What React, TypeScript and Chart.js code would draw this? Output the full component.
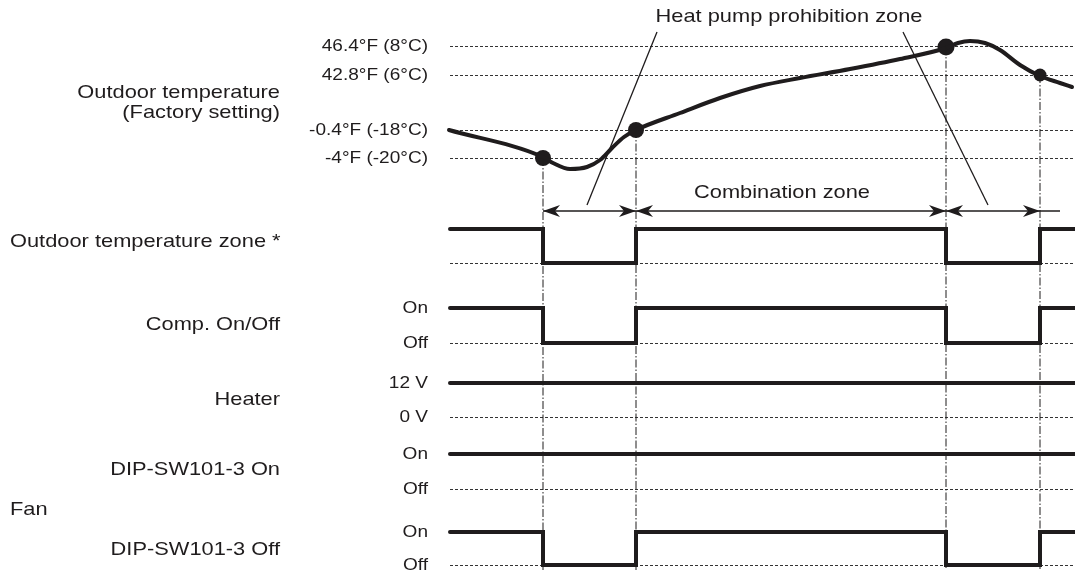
import React, { useEffect, useRef } from "react";
import { Chart, registerables } from "chart.js";

Chart.register(...registerables);

// ---- Time axis (arbitrary time units) ----
const EVENT_TIMES = [9.3, 18.6, 49.6, 59.0];
const TIME_END = 62.5;

// ---- Outdoor temperature curve (diagram level units, top = 0) ----
const TEMP_TIMES = [-0.1, 9.3, 10.3, 12.0, 13.7, 15.0, 16.2, 17.4, 18.6, 23.0, 27.0, 31.0, 35.0, 40.0, 45.0, 49.6, 50.8, 52.0, 53.5, 55.0, 57.0, 59.0, 61.0, 62.2];
const TEMP_LEVELS = [130, 157, 163, 169, 167, 160, 148, 137, 130, 113, 98, 86, 78, 69, 59, 48, 43, 41, 43, 50, 65, 76, 83, 87];
const EVENT_MARKER_LEVELS = [158, 130, 47, 75];
const MARKER_RADII = [8, 8, 8.5, 6.5];

// ---- Tick levels / labels ----
const TEMP_TICK_LEVELS = [46, 75, 130, 158];
const TEMP_TICK_LABELS = ["46.4°F (8°C)", "42.8°F (6°C)", "-0.4°F (-18°C)", "-4°F (-20°C)"];
const STATE_TICK_LEVELS = [308, 343, 383, 417, 454, 489, 532, 565];
const STATE_TICK_LABELS = ["On", "Off", "12 V", "0 V", "On", "Off", "On", "Off"];
const DOTTED_LEVELS = [46, 75, 130, 158, 263, 343, 417, 489, 565];

// ---- Signals: states per interval (1 = high, 0 = low) ----
const ZONE_STATES = [1, 0, 1, 0, 1];
const COMP_STATES = [1, 0, 1, 0, 1];
const HEATER_STATES = [1, 1, 1, 1, 1];
const DIP_ON_STATES = [1, 1, 1, 1, 1];
const FAN_STATES = [1, 0, 1, 0, 1];
const ZONE_LEVELS = [229, 263];
const COMP_LEVELS = [308, 343];
const HEATER_LEVELS = [383, 417];
const DIP_ON_LEVELS = [454, 489];
const FAN_LEVELS = [532, 565];

// ---- Annotations ----
const ARROW_LEVEL = 211;
const ARROW_SPANS = [[9.3, 18.6], [18.6, 49.6], [49.6, 59.0]];
const ARROW_LINE_END = 61.0;
const LEADER_A = [[20.7, 32], [13.7, 205]];
const LEADER_B = [[45.3, 32], [53.8, 205]];
const EVENT_LINE_BOTTOM = 570;

const TITLE_TEXT = "Heat pump prohibition zone";
const TITLE_POS = [33.9, 17];
const COMBO_TEXT = "Combination zone";
const COMBO_POS = [33.2, 193];

const LEFT_LABELS = ["Outdoor temperature", "(Factory setting)", "Outdoor temperature zone *", "Comp. On/Off", "Heater", "DIP-SW101-3 On", "Fan", "DIP-SW101-3 Off"];
const LEFT_LABEL_LEVELS = [93, 113, 242, 325, 400, 470, 510, 550];
const LEFT_LABEL_ALIGN = ["right", "right", "left", "right", "right", "right", "left", "right"];

const INK = "#1f1c1d";
const FONT = "'Liberation Sans', Arial, Helvetica, sans-serif";

function stepData(states: number[], levels: number[]) {
  const lv = (s: number) => (s ? levels[0] : levels[1]);
  const pts = [{ x: 0, y: lv(states[0]) }];
  EVENT_TIMES.forEach((t, i) => pts.push({ x: t, y: lv(states[i + 1]) }));
  pts.push({ x: TIME_END, y: lv(states[states.length - 1]) });
  return pts;
}

function drawText(ctx: CanvasRenderingContext2D, text: string, x: number, y: number, size: number, sx: number, align: CanvasTextAlign) {
  ctx.save();
  ctx.translate(x, y);
  ctx.scale(sx, 1);
  ctx.font = `${size}px ${FONT}`;
  ctx.fillStyle = INK;
  ctx.textAlign = align;
  ctx.textBaseline = "middle";
  ctx.fillText(text, 0, 0);
  ctx.restore();
}

const decorPlugin = {
  id: "decor",
  afterDatasetsDraw(chart: any) {
    const ctx: CanvasRenderingContext2D = chart.ctx;
    const xs = chart.scales.x;
    const ys = chart.scales.y;
    const y = ys.getPixelForValue(ARROW_LEVEL);
    const head = (tipX: number, dir: number) => {
      ctx.beginPath();
      ctx.moveTo(tipX, y);
      ctx.lineTo(tipX - dir * 17, y - 6);
      ctx.lineTo(tipX - dir * 12, y);
      ctx.lineTo(tipX - dir * 17, y + 6);
      ctx.closePath();
      ctx.fill();
    };
    ctx.save();
    ctx.fillStyle = INK;
    ARROW_SPANS.forEach(([a, b]) => {
      head(xs.getPixelForValue(a), -1);
      head(xs.getPixelForValue(b), 1);
    });
    ctx.restore();
  },
  afterDraw(chart: any) {
    const ctx: CanvasRenderingContext2D = chart.ctx;
    const xs = chart.scales.x;
    const ys = chart.scales.y;
    const tickX = chart.chartArea.left - 22;
    TEMP_TICK_LEVELS.forEach((v, i) => drawText(ctx, TEMP_TICK_LABELS[i], tickX, ys.getPixelForValue(v), 17, 1.12, "right"));
    STATE_TICK_LEVELS.forEach((v, i) => drawText(ctx, STATE_TICK_LABELS[i], tickX, ys.getPixelForValue(v), 17, 1.12, "right"));
    drawText(ctx, TITLE_TEXT, xs.getPixelForValue(TITLE_POS[0]), ys.getPixelForValue(TITLE_POS[1]), 18.5, 1.18, "center");
    drawText(ctx, COMBO_TEXT, xs.getPixelForValue(COMBO_POS[0]), ys.getPixelForValue(COMBO_POS[1]), 18.5, 1.18, "center");
    LEFT_LABELS.forEach((t, i) => {
      const align = LEFT_LABEL_ALIGN[i] as CanvasTextAlign;
      drawText(ctx, t, align === "right" ? 280 : 10, ys.getPixelForValue(LEFT_LABEL_LEVELS[i]), 18.5, 1.18, align);
    });
  },
};

export default function App() {
  const ref = useRef<HTMLCanvasElement | null>(null);
  useEffect(() => {
    document.body.style.margin = "0";
    const canvas = ref.current!;
    const signal = (label: string, states: number[], levels: number[]) => ({
      label,
      data: stepData(states, levels),
      stepped: true,
      borderColor: INK,
      borderWidth: 4,
      borderJoinStyle: "miter",
      borderCapStyle: "round",
      pointRadius: 0,
      clip: false,
    });
    const thin = (label: string, pts: number[][], dash: number[] = [], width = 1.3) => ({
      label,
      data: pts.map(([x, y]) => ({ x, y })),
      borderColor: INK,
      borderWidth: width,
      borderDash: dash,
      pointRadius: 0,
      clip: false,
    });
    const chart = new Chart(canvas, {
      type: "line",
      data: {
        datasets: [
          ...EVENT_TIMES.map((t, i) => thin(`event${i}`, [[t, EVENT_MARKER_LEVELS[i]], [t, EVENT_LINE_BOTTOM]], [8, 2, 1.5, 2], 1)),
          thin("leaderA", LEADER_A),
          thin("leaderB", LEADER_B),
          thin("arrowLine", [[EVENT_TIMES[0], ARROW_LEVEL], [ARROW_LINE_END, ARROW_LEVEL]], [], 1.5),
          {
            label: "Outdoor temperature",
            data: TEMP_TIMES.map((t, i) => ({ x: t, y: TEMP_LEVELS[i] })),
            borderColor: INK,
            borderWidth: 4,
            cubicInterpolationMode: "monotone",
            borderCapStyle: "round",
            pointRadius: 0,
            clip: false,
          },
          {
            label: "markers",
            data: EVENT_TIMES.map((t, i) => ({ x: t, y: EVENT_MARKER_LEVELS[i] })),
            showLine: false,
            pointRadius: MARKER_RADII,
            pointBackgroundColor: INK,
            pointBorderWidth: 0,
            clip: false,
          },
          signal("Outdoor temperature zone", ZONE_STATES, ZONE_LEVELS),
          signal("Comp. On/Off", COMP_STATES, COMP_LEVELS),
          signal("Heater", HEATER_STATES, HEATER_LEVELS),
          signal("DIP-SW101-3 On", DIP_ON_STATES, DIP_ON_LEVELS),
          signal("DIP-SW101-3 Off", FAN_STATES, FAN_LEVELS),
        ] as any,
      },
      options: {
        animation: false,
        responsive: false,
        maintainAspectRatio: false,
        devicePixelRatio: 1,
        layout: { padding: 0, autoPadding: false },
        plugins: { legend: { display: false }, tooltip: { enabled: false } },
        events: [],
        scales: {
          x: { type: "linear", min: 0, max: TIME_END, display: false },
          y: {
            type: "linear",
            position: "left",
            reverse: true,
            min: 0,
            max: 574,
            afterFit: (s: any) => { s.width = 450; },
            afterBuildTicks: (s: any) => { s.ticks = DOTTED_LEVELS.map((v) => ({ value: v })); },
            ticks: { display: false },
            grid: { color: "#333", lineWidth: 1, drawTicks: false },
            border: { display: false, dash: [3, 2] },
          },
        },
      } as any,
      plugins: [decorPlugin],
    });
    return () => chart.destroy();
  }, []);
  return (
    <div style={{ position: "absolute", left: 0, top: 0, width: 1075, height: 574, background: "#fff" }}>
      <canvas ref={ref} width={1075} height={574} />
    </div>
  );
}
